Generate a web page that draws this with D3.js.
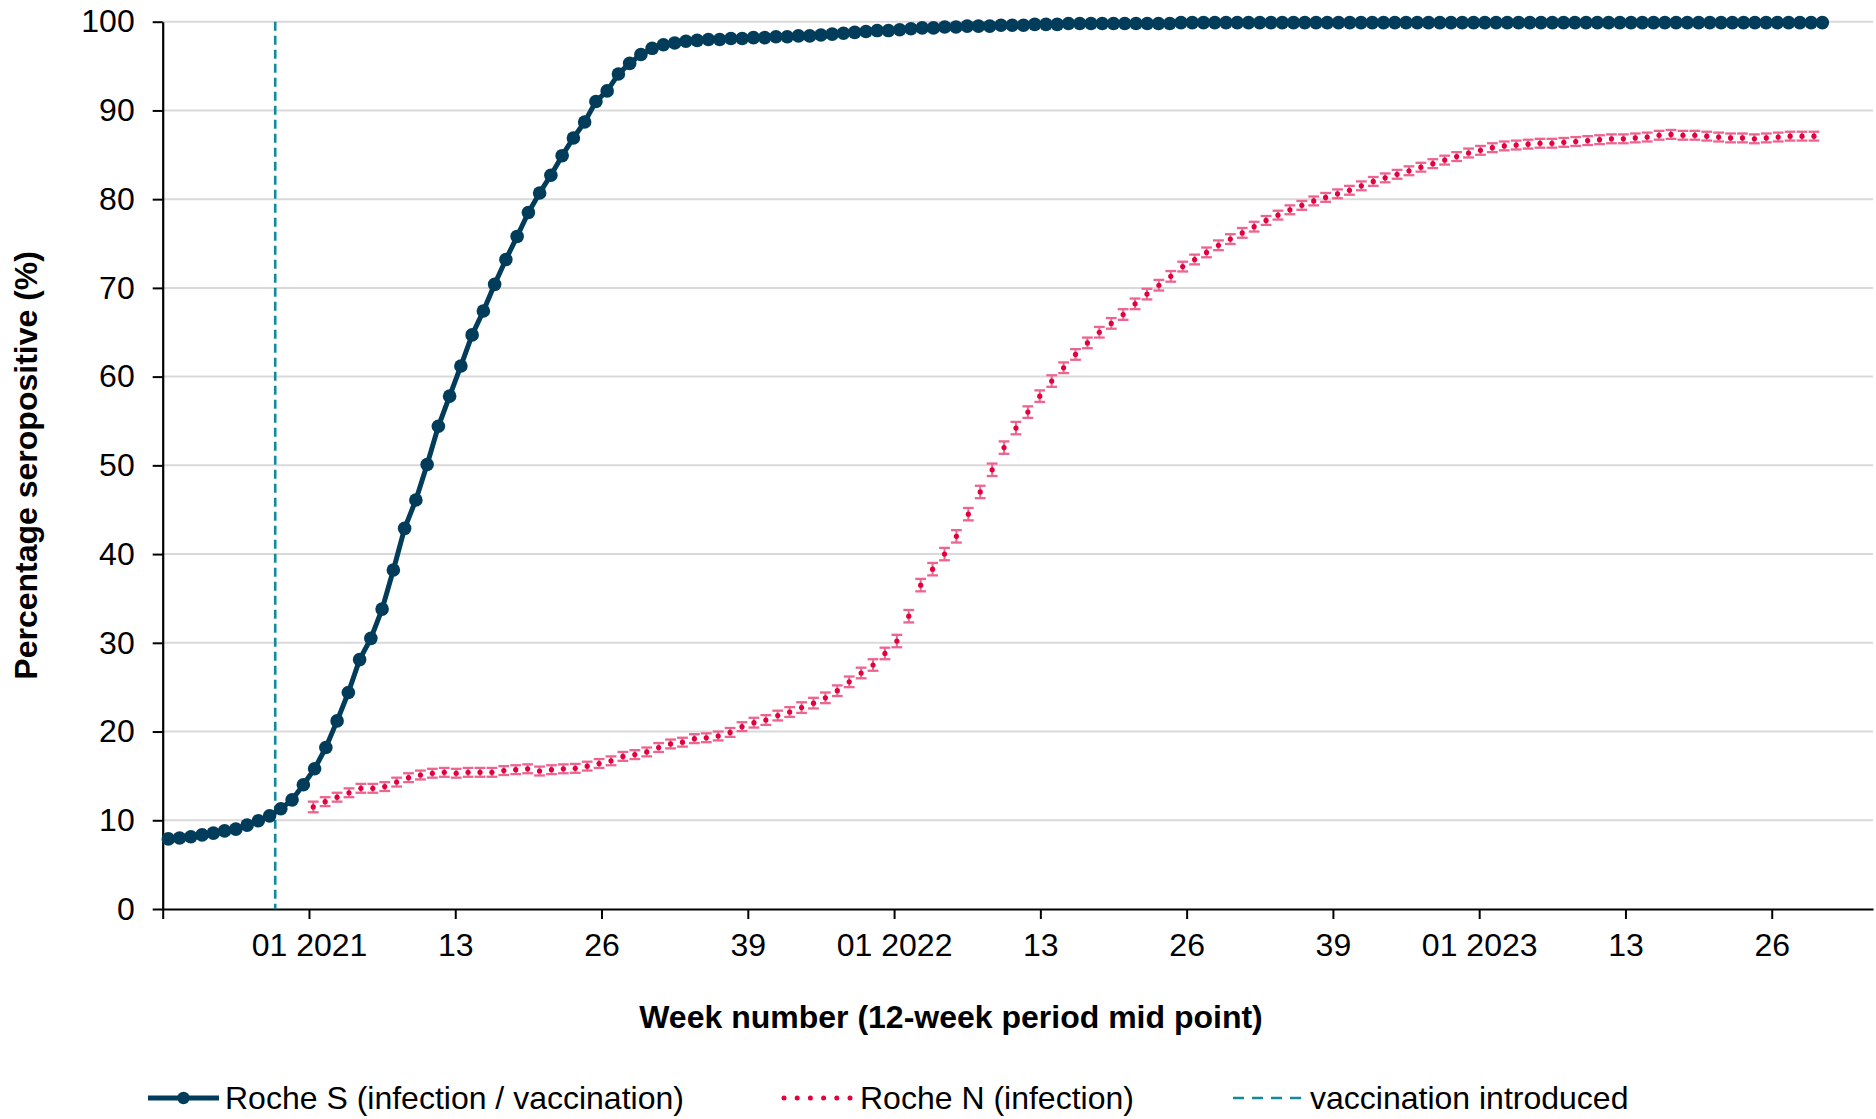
<!DOCTYPE html>
<html><head><meta charset="utf-8">
<script src="https://cdn.jsdelivr.net/npm/d3@7"></script>
<style>
html,body{margin:0;padding:0;background:#fff;}
svg{display:block;font-family:"Liberation Sans",Arial,sans-serif;}
</style></head>
<body>
<svg id="chart" width="1876" height="1119"></svg>
<script>
// ---- data ----
const yTicks = [0,10,20,30,40,50,60,70,80,90,100];
const xTickLabels = ["", "01 2021", "13", "26", "39", "01 2022", "13", "26", "39", "01 2023", "13", "26"];
const vaccinationWeekIndex = 10; // boundary before the 11th weekly point

const rocheS = [7.9,8.0,8.15,8.35,8.55,8.8,9.0,9.45,9.95,10.5,
 11.3,12.3,14.0,15.8,18.2,21.2,24.4,28.1,30.5,33.8,
 38.2,42.9,46.1,50.1,54.4,57.8,61.2,64.7,67.4,70.4,
 73.2,75.8,78.5,80.7,82.7,84.9,86.9,88.7,91.0,92.2,
 94.1,95.3,96.3,97.0,97.4,97.6,97.8,97.9,98.0,98.0,
 98.1,98.1,98.2,98.2,98.3,98.3,98.4,98.4,98.5,98.6,
 98.7,98.8,98.9,99.0,99.0,99.1,99.2,99.3,99.3,99.4,
 99.4,99.5,99.5,99.5,99.6,99.6,99.6,99.7,99.7,99.7,
 99.8,99.8,99.8,99.8,99.8,99.8,99.8,99.8,99.8,99.8,
 99.9,99.9,99.9,99.9,99.9,99.9,99.9,99.9,99.9,99.9,
 99.9,99.9,99.9,99.9,99.9,99.9,99.9,99.9,99.9,99.9,
 99.9,99.9,99.9,99.9,99.9,99.9,99.9,99.9,99.9,99.9,
 99.9,99.9,99.9,99.9,99.9,99.9,99.9,99.9,99.9,99.9,
 99.9,99.9,99.9,99.9,99.9,99.9,99.9,99.9,99.9,99.9,
 99.9,99.9,99.9,99.9,99.9,99.9,99.9,99.9];

const rocheN = [11.5,12.1,12.6,13.1,13.6,13.6,13.8,14.3,14.8,15.1,
 15.3,15.4,15.3,15.4,15.4,15.4,15.6,15.7,15.8,15.55,
 15.7,15.8,15.85,16.1,16.4,16.7,17.2,17.4,17.7,18.2,
 18.6,18.8,19.2,19.3,19.5,19.9,20.55,21.0,21.3,21.8,
 22.2,22.7,23.2,23.8,24.6,25.6,26.6,27.5,28.8,30.2,
 33.0,36.5,38.3,40.0,42.0,44.5,47.0,49.5,52.0,54.2,
 56.0,57.8,59.5,61.0,62.5,63.8,65.0,66.0,67.0,68.2,
 69.3,70.3,71.3,72.4,73.2,74.0,74.8,75.5,76.2,76.9,
 77.6,78.2,78.8,79.3,79.8,80.2,80.6,81.0,81.5,82.0,
 82.4,82.8,83.2,83.6,84.0,84.4,84.8,85.2,85.5,85.8,
 86.0,86.1,86.2,86.3,86.3,86.4,86.5,86.6,86.7,86.8,
 86.8,86.9,87.0,87.2,87.3,87.2,87.2,87.1,87.0,86.9,
 86.9,86.8,86.9,87.0,87.1,87.1,87.1];

const rocheNErr = [0.6,0.5,0.5,0.5,0.5,0.5,0.5,0.5,0.5,0.5,
 0.5,0.5,0.5,0.5,0.5,0.5,0.5,0.5,0.5,0.5,
 0.5,0.5,0.5,0.5,0.5,0.5,0.5,0.5,0.5,0.5,
 0.5,0.5,0.5,0.5,0.5,0.5,0.5,0.55,0.55,0.55,
 0.55,0.6,0.6,0.6,0.6,0.6,0.6,0.65,0.65,0.7,
 0.7,0.7,0.7,0.7,0.7,0.7,0.7,0.7,0.7,0.7,
 0.65,0.65,0.65,0.6,0.6,0.6,0.6,0.6,0.6,0.6,
 0.6,0.6,0.6,0.55,0.55,0.55,0.55,0.55,0.55,0.55,
 0.5,0.5,0.5,0.5,0.5,0.5,0.5,0.5,0.5,0.5,
 0.5,0.5,0.5,0.5,0.5,0.5,0.5,0.5,0.5,0.5,
 0.5,0.5,0.5,0.5,0.5,0.5,0.5,0.5,0.5,0.5,
 0.5,0.5,0.5,0.5,0.5,0.5,0.5,0.5,0.5,0.5,
 0.5,0.5,0.5,0.5,0.5,0.5,0.5];

const legendLabels = ["Roche S (infection / vaccination)", "Roche N (infection)", "vaccination introduced"];
const yTitle = "Percentage seropositive (%)";
const xTitle = "Week number (12-week period mid point)";

// ---- colours ----
const cS = "#013d5a", cN = "#e2003d", cErr = "#ee6490", cVac = "#128a9c", cGrid = "#d9d9d9";

// ---- layout ----
const pL = 162.7, pR = 1873, pT = 21.7, pB = 909;
const nSlots = 152;  // category slots across the primary axis
const fs = 32;
const svg = d3.select("#chart");

const x = d3.scaleLinear().domain([0, nSlots]).range([pL, pR]);
const y = d3.scaleLinear().domain([0, 100]).range([pB, pT]);
// Roche N is drawn against its own (secondary, hidden) category axis
const xN = d3.scaleLinear().domain([0, rocheN.length - 1]).range([x(13.38), x(146.75)]);

// gridlines
svg.append("g").selectAll("line").data(yTicks.filter(d => d > 0)).join("line")
  .attr("x1", pL).attr("x2", pR).attr("y1", d => y(d)).attr("y2", d => y(d))
  .attr("stroke", cGrid).attr("stroke-width", 2);

// y axis
const yAxis = svg.append("g").attr("transform", `translate(${pL},0)`)
  .call(d3.axisLeft(y).tickValues(yTicks).tickSize(10).tickSizeOuter(0).tickPadding(18).tickFormat(d3.format("d")));
yAxis.select(".domain").attr("stroke", "#000").attr("stroke-width", 2.2);
yAxis.selectAll(".tick line").attr("stroke", "#000").attr("stroke-width", 2);
yAxis.selectAll(".tick text").attr("font-size", fs).attr("fill", "#000")
  .attr("font-family", "Liberation Sans, Arial, sans-serif");

// x axis
const xTickVals = xTickLabels.map((d, i) => i * 13);
const xAxis = svg.append("g").attr("transform", `translate(0,${pB})`)
  .call(d3.axisBottom(x).tickValues(xTickVals).tickSize(10).tickSizeOuter(0).tickPadding(14)
    .tickFormat((d, i) => xTickLabels[i]));
xAxis.select(".domain").attr("stroke", "#000").attr("stroke-width", 2.2);
xAxis.selectAll(".tick line").attr("stroke", "#000").attr("stroke-width", 2);
xAxis.selectAll(".tick text").attr("font-size", fs).attr("fill", "#000")
  .attr("font-family", "Liberation Sans, Arial, sans-serif");

// vaccination line
svg.append("line")
  .attr("x1", x(vaccinationWeekIndex)).attr("x2", x(vaccinationWeekIndex))
  .attr("y1", y(100)).attr("y2", pB)
  .attr("stroke", cVac).attr("stroke-width", 2.6).attr("stroke-dasharray", "9,5");

// Roche N error bars + markers
const gN = svg.append("g");
const capW = 5.4;
const errG = gN.selectAll("g.err").data(rocheN).join("g").attr("class", "err");
errG.append("line")
  .attr("x1", (d, i) => xN(i)).attr("x2", (d, i) => xN(i))
  .attr("y1", (d, i) => y(d - rocheNErr[i])).attr("y2", (d, i) => y(d + rocheNErr[i]))
  .attr("stroke", cErr).attr("stroke-width", 2);
errG.append("line")
  .attr("x1", (d, i) => xN(i) - capW).attr("x2", (d, i) => xN(i) + capW)
  .attr("y1", (d, i) => y(d - rocheNErr[i])).attr("y2", (d, i) => y(d - rocheNErr[i]))
  .attr("stroke", cErr).attr("stroke-width", 2.3);
errG.append("line")
  .attr("x1", (d, i) => xN(i) - capW).attr("x2", (d, i) => xN(i) + capW)
  .attr("y1", (d, i) => y(d + rocheNErr[i])).attr("y2", (d, i) => y(d + rocheNErr[i]))
  .attr("stroke", cErr).attr("stroke-width", 2.3);
gN.selectAll("circle").data(rocheN).join("circle")
  .attr("cx", (d, i) => xN(i)).attr("cy", d => y(d)).attr("r", 2.6).attr("fill", cN);

// Roche S line + markers
const lineS = d3.line().x((d, i) => x(i + 0.5)).y(d => y(d));
svg.append("path").datum(rocheS).attr("d", lineS)
  .attr("fill", "none").attr("stroke", cS).attr("stroke-width", 5).attr("stroke-linejoin", "round");
svg.append("g").selectAll("circle").data(rocheS).join("circle")
  .attr("cx", (d, i) => x(i + 0.5)).attr("cy", d => y(d)).attr("r", 6.8).attr("fill", cS);

// axis titles
svg.append("text").attr("transform", `translate(37,${(pT + pB) / 2}) rotate(-90)`)
  .attr("text-anchor", "middle").attr("font-weight", "bold").attr("font-size", fs).text(yTitle);
svg.append("text").attr("x", 951).attr("y", 1028).attr("text-anchor", "middle")
  .attr("font-weight", "bold").attr("font-size", fs).text(xTitle);

// legend
const ly = 1098;
const leg = svg.append("g");
leg.append("line").attr("x1", 148).attr("x2", 219).attr("y1", ly).attr("y2", ly)
  .attr("stroke", cS).attr("stroke-width", 5);
leg.append("circle").attr("cx", 183.5).attr("cy", ly).attr("r", 6.2).attr("fill", cS);
leg.append("text").attr("x", 225).attr("y", ly + 11).attr("font-size", fs).text(legendLabels[0]);

leg.append("line").attr("x1", 784).attr("x2", 851).attr("y1", ly).attr("y2", ly)
  .attr("stroke", cN).attr("stroke-width", 5).attr("stroke-linecap", "round").attr("stroke-dasharray", "0,13.2");
leg.append("text").attr("x", 860).attr("y", ly + 11).attr("font-size", fs).text(legendLabels[1]);

leg.append("line").attr("x1", 1233).attr("x2", 1302).attr("y1", ly).attr("y2", ly)
  .attr("stroke", cVac).attr("stroke-width", 2.6).attr("stroke-dasharray", "11,8");
leg.append("text").attr("x", 1310).attr("y", ly + 11).attr("font-size", fs).text(legendLabels[2]);
</script>
</body></html>
